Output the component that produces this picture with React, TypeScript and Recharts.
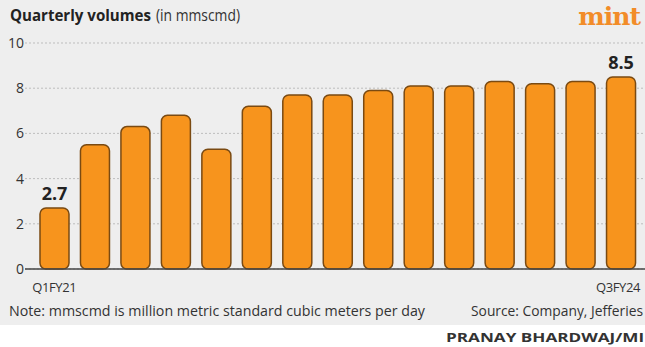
import { BarChart, Bar, XAxis, YAxis, CartesianGrid } from "recharts";

const quarters = [
  "Q1FY21", "Q2FY21", "Q3FY21", "Q4FY21",
  "Q1FY22", "Q2FY22", "Q3FY22", "Q4FY22",
  "Q1FY23", "Q2FY23", "Q3FY23", "Q4FY23",
  "Q1FY24", "Q2FY24", "Q3FY24",
];
const volumes = [2.7, 5.5, 6.3, 6.8, 5.3, 7.2, 7.7, 7.7, 7.9, 8.1, 8.1, 8.3, 8.2, 8.3, 8.5];
const yTicks = [0, 2, 4, 6, 8, 10];

const data = quarters.map((q, i) => ({ q, v: volumes[i] }));
const last = quarters.length - 1;

const FONT = "'Open Sans', 'DejaVu Sans', sans-serif";

const YTick = (props: any) => {
  const { y, payload } = props;
  return (
    <text x={24} y={y + 5} textAnchor="end" fontSize={14} fill="#333" fontFamily={FONT}>
      {payload.value}
    </text>
  );
};

// only the first and last quarters are labelled
const XTick = (props: any) => {
  const { x, y, payload } = props;
  if (payload.index !== 0 && payload.index !== last) return <g />;
  const isLast = payload.index === last;
  return (
    <text
      x={isLast ? 640 : x}
      y={y + 15}
      textAnchor={isLast ? "end" : "middle"}
      fontSize={13}
      letterSpacing={-0.4}
      fill="#333"
      fontFamily={FONT}
    >
      {payload.value}
    </text>
  );
};

const EndLabel = (props: any) => {
  const { x, y, width, value, index } = props;
  if (index !== 0 && index !== last) return null;
  return (
    <text x={x + width / 2} y={y - 8} textAnchor="middle" fontSize={18} fontWeight="bold" fill="#222" fontFamily={FONT}>
      {value}
    </text>
  );
};

export default function App() {
  return (
    <div style={{ position: "absolute", left: 0, top: 0, width: 645, height: 347, background: "#fff", overflow: "hidden" }}>
      <div style={{ position: "absolute", left: 0, top: 0, width: 645, height: 325, background: "#eeeeee" }} />
      <div style={{ position: "absolute", left: 0, top: 0 }}>
        <BarChart width={645} height={300} data={data} margin={{ top: 43, right: 0, left: 0, bottom: 0 }}>
          <CartesianGrid vertical={false} stroke="#bdbdbd" strokeDasharray="2 2" />
          <YAxis
            width={25}
            domain={[0, 10]}
            ticks={yTicks}
            axisLine={false}
            tickLine={false}
            tick={<YTick />}
          />
          <XAxis
            dataKey="q"
            height={31}
            interval={0}
            padding={{ left: 9, right: 4 }}
            axisLine={{ stroke: "#444", strokeWidth: 1.5 }}
            tickLine={false}
            tick={<XTick />}
          />
          <Bar
            dataKey="v"
            fill="#f7941d"
            stroke="#7a4a12"
            strokeWidth={1.5}
            radius={6}
            barSize={29}
            isAnimationActive={false}
            label={<EndLabel />}
          />
        </BarChart>
      </div>
      <svg width={645} height={347} style={{ position: "absolute", left: 0, top: 0, pointerEvents: "none" }}>
        <text x={10} y={21} fontSize={16} fontWeight="bold" fill="#222" fontFamily={FONT} textLength={141} lengthAdjust="spacingAndGlyphs">
          Quarterly volumes
        </text>
        <text x={156} y={21} fontSize={16} fill="#333" fontFamily={FONT} textLength={84} lengthAdjust="spacingAndGlyphs">
          (in mmscmd)
        </text>
        <text x={640} y={25} textAnchor="end" fontSize={25} fontWeight="bold" fill="#f28c28" fontFamily="'DejaVu Serif', 'Liberation Serif', serif" letterSpacing={-1}>
          mint
        </text>
        <text x={9} y={316} fontSize={14} fill="#333" fontFamily={FONT} textLength={416} lengthAdjust="spacingAndGlyphs">
          Note: mmscmd is million metric standard cubic meters per day
        </text>
        <text x={471} y={316} fontSize={14} fill="#333" fontFamily={FONT} textLength={172} lengthAdjust="spacingAndGlyphs">
          Source: Company, Jefferies
        </text>
        <text x={446} y={342} fontSize={12} fontWeight="bold" fill="#333" fontFamily={FONT} textLength={222} lengthAdjust="spacingAndGlyphs">
          PRANAY BHARDWAJ/MINT
        </text>
      </svg>
    </div>
  );
}
